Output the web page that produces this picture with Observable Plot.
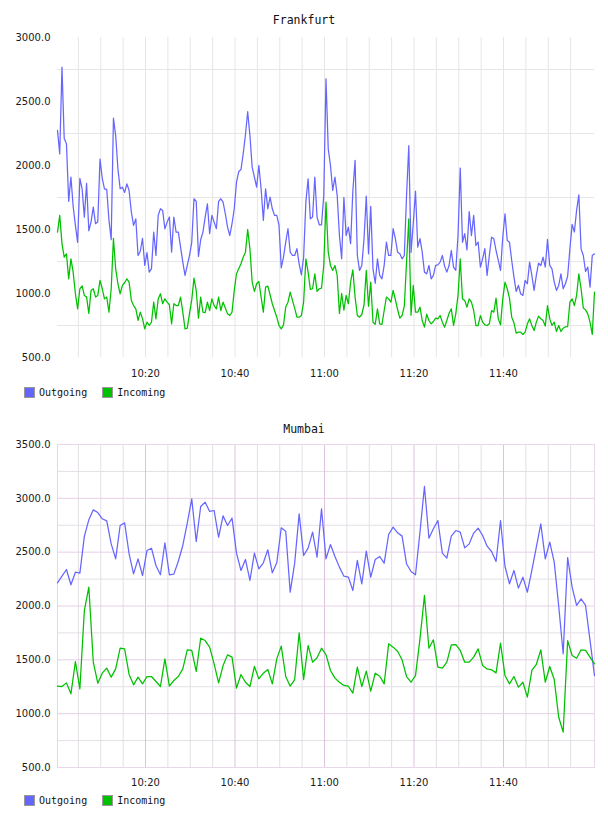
<!DOCTYPE html>
<html><head><meta charset="utf-8">
<script src="https://cdn.jsdelivr.net/npm/d3@7"></script>
<script src="https://cdn.jsdelivr.net/npm/@observablehq/plot@0.6"></script>
<style>
body{margin:0;background:#fff;}
#root{position:relative;width:608px;height:816px;overflow:hidden;background:#fff;}
.title{position:absolute;left:0;width:608px;text-align:center;font:11.5px "DejaVu Sans Mono",monospace;color:#111;line-height:14px;}
.chart{position:absolute;left:0;}
.legend{position:absolute;left:24px;display:flex;align-items:center;font:10px "DejaVu Sans Mono",monospace;color:#111;height:12px;}
.item{display:flex;align-items:center;margin-right:15px;}
.sw{width:9px;height:9px;border:1px solid #999;margin-right:4px;}
</style></head>
<body><div id="root"></div>
<script>
// ---- data ----
const titles = ["Frankfurt", "Mumbai"];
const seriesNames = ["Outgoing", "Incoming"];
const seriesColors = ["#6666ff", "#00c000"];
const xTickValues = [20, 40, 60, 80, 100];          // minutes after 10:00
const xTickLabels = ["10:20", "10:40", "11:00", "11:20", "11:40"];
const startMinute = 1 / 3;                           // 10:00:20
const spanMinutes = 120;
const frankfurtStep = 0.5;                           // minutes between samples
const mumbaiStep = 1;
const frankfurtYTicks = [500, 1000, 1500, 2000, 2500, 3000];
const mumbaiYTicks = [500, 1000, 1500, 2000, 2500, 3000, 3500];

const frankfurtOutgoing = [
2274,2090,2768,2210,2170,1720,1910,1680,1532,1400,
1900,1818,1597,1860,1490,1560,1675,1545,1560,2050,
1900,1818,1813,1573,1420,2370,2234,1974,1818,1831,
1790,1857,1805,1636,1532,1583,1297,1330,1430,1219,
1320,1167,1193,1480,1297,1610,1662,1649,1505,1558,
1597,1323,1597,1480,1480,1362,1245,1141,1219,1297,
1400,1740,1720,1290,1420,1480,1597,1700,1467,1610,
1558,1506,1720,1740,1714,1623,1519,1453,1545,1662,
1870,1953,1969,2092,2240,2420,2234,1987,1909,1831,
2000,1818,1571,1818,1662,1753,1662,1610,1610,1532,
1200,1284,1402,1506,1323,1297,1297,1350,1232,1146,
1284,1714,1896,1583,1597,1910,1597,1537,1537,1766,
2677,2130,2000,1805,1909,1766,1453,1271,1750,1453,
1519,1389,1800,2040,1297,1180,1219,1428,1760,1310,
1680,1193,1080,1271,1141,1115,1219,1402,1297,1297,
1506,1428,1323,1310,1271,1297,1766,2155,1320,1545,
1800,1362,1428,1323,1167,1154,1219,1115,1141,1219,
1224,1245,1297,1214,1167,1219,1336,1206,1180,1453,
1980,1400,1467,1340,1640,1453,1610,1375,1402,1206,
1271,1350,1141,1297,1440,1428,1336,1258,1180,1440,
1623,1414,1401,1258,1128,1016,1063,998,985,1102,
1076,1245,1141,1024,1141,1237,1219,1284,1206,1422,
1219,1193,1089,1024,1063,1154,1037,1076,1136,1349,
1540,1480,1649,1771,1349,1297,1172,1206,1050,1297,
1310];

const frankfurtIncoming = [
1480,1610,1390,1284,1310,1115,1271,1167,998,880,
1037,1060,985,972,844,1024,1037,972,985,1102,
1037,958,972,854,1037,1430,1193,1076,998,1063,
1084,1115,1089,946,906,880,790,854,802,724,
776,750,776,932,802,958,998,920,958,932,
912,763,920,906,906,972,854,724,730,844,
950,1120,1024,808,972,854,850,932,867,958,
906,880,972,867,932,886,841,828,854,1024,
1154,1193,1232,1284,1323,1500,1349,1089,1016,1076,
1094,972,854,1050,1058,990,920,867,815,750,
724,755,893,932,1011,946,886,815,815,828,
932,1271,1167,1032,1037,1154,1016,1037,1042,1219,
1714,1323,1219,1180,1219,1141,844,1000,870,985,
920,1089,1185,972,828,815,836,912,1180,900,
1089,776,760,880,763,758,867,972,958,932,
1024,953,875,808,828,901,1245,1583,830,1063,
854,854,893,789,737,838,789,763,781,808,
802,828,776,737,789,846,880,750,841,985,
1270,958,946,893,958,932,867,750,750,828,
776,755,750,763,867,854,964,802,755,958,
1089,1037,964,815,771,690,698,698,680,698,
763,802,750,711,776,823,802,789,745,906,
802,750,776,703,750,703,729,740,742,932,
958,906,985,1154,1037,886,872,841,776,680,
1011];

const mumbaiOutgoing = [
2215,2277,2339,2197,2314,2305,2646,2800,2893,2868,
2810,2791,2577,2438,2748,2772,2485,2299,2438,2283,
2516,2537,2376,2290,2587,2290,2296,2416,2562,2769,
2995,2599,2924,2964,2878,2887,2639,2837,2748,2816,
2491,2330,2432,2237,2491,2345,2401,2522,2308,2401,
2726,2695,2128,2398,2856,2469,2537,2686,2454,2902,
2438,2571,2460,2361,2277,2268,2144,2423,2206,2509,
2268,2432,2460,2398,2664,2732,2680,2649,2392,2320,
2290,2686,3110,2630,2717,2794,2491,2444,2649,2701,
2686,2540,2577,2677,2723,2655,2556,2506,2413,2794,
2367,2206,2330,2166,2268,2128,2330,2546,2763,2438,
2593,2407,2000,1556,2450,2175,2005,2067,2005,1680,
1354];

const mumbaiIncoming = [
1255,1252,1286,1184,1484,1231,1958,2175,1478,1283,
1376,1423,1339,1416,1608,1602,1364,1268,1339,1277,
1345,1345,1299,1252,1509,1255,1308,1345,1416,1593,
1587,1392,1701,1679,1618,1463,1286,1447,1546,1525,
1237,1364,1292,1252,1438,1323,1376,1410,1277,1509,
1627,1345,1255,1317,1751,1317,1633,1478,1519,1608,
1549,1401,1330,1292,1262,1255,1190,1432,1252,1395,
1209,1376,1348,1277,1649,1618,1580,1500,1345,1292,
1354,1695,2098,1608,1686,1432,1423,1478,1639,1642,
1587,1478,1478,1525,1602,1447,1416,1407,1379,1655,
1354,1277,1345,1246,1292,1153,1401,1457,1593,1292,
1438,1317,967,828,1679,1540,1515,1593,1587,1525,
1463];

// ---- drawing ----
const root = document.getElementById("root");
const toRows = (vals, step) => vals.map((v, i) => ({t: startMinute + i * step, v}));
const fmtY = d3.format(".1f");
const fmtX = d => xTickLabels[xTickValues.indexOf(d)];
const baseStyle = {fontFamily: "'DejaVu Sans', sans-serif", fontSize: "10px", color: "#1a1a1a", background: "transparent", overflow: "visible"};

function addTitle(text, top) {
  const d = document.createElement("div");
  d.className = "title"; d.style.top = top + "px"; d.textContent = text;
  root.appendChild(d);
}
function addLegend(top) {
  const lg = document.createElement("div");
  lg.className = "legend"; lg.style.top = top + "px";
  seriesNames.forEach((n, i) => {
    const it = document.createElement("div"); it.className = "item";
    const sw = document.createElement("div"); sw.className = "sw"; sw.style.background = seriesColors[i];
    const tx = document.createElement("span"); tx.textContent = n;
    it.appendChild(sw); it.appendChild(tx); lg.appendChild(it);
  });
  root.appendChild(lg);
}
function addChart(svg, top) {
  const w = document.createElement("div");
  w.className = "chart"; w.style.top = top + "px";
  w.appendChild(svg); root.appendChild(w);
}

// Frankfurt
addTitle(titles[0], 13);
const fraGridX = d3.range(5, 120, 5);
const fraGridY = d3.range(750, 3000, 500);
const fra = Plot.plot({
  width: 608, height: 355,
  marginLeft: 57, marginRight: 14, marginTop: 7, marginBottom: 28,
  style: baseStyle,
  x: {domain: [startMinute, startMinute + spanMinutes], label: null},
  y: {domain: [500, 3000], label: null},
  marks: [
    Plot.ruleX(fraGridX, {stroke: "#e6e6e6", strokeWidth: 1}),
    Plot.ruleY(fraGridY, {stroke: "#e6e6e6", strokeWidth: 1}),
    Plot.line(toRows(frankfurtOutgoing, frankfurtStep), {x: "t", y: "v", stroke: seriesColors[0], strokeWidth: 1.25}),
    Plot.line(toRows(frankfurtIncoming, frankfurtStep), {x: "t", y: "v", stroke: seriesColors[1], strokeWidth: 1.25}),
    Plot.axisY(frankfurtYTicks, {tickSize: 0, tickPadding: 7, tickFormat: fmtY, label: null}),
    Plot.axisX(xTickValues, {tickSize: 0, tickPadding: 12, tickFormat: fmtX, label: null})
  ]
});
addChart(fra, 30);
addLegend(386);

// Mumbai
addTitle(titles[1], 422);
const mumMinorX = d3.range(5, 120, 5).filter(d => d % 20 !== 0);
const mumMinorY = d3.range(750, 3500, 500);
const mumMajorY = d3.range(1000, 3500, 500);
const mum = Plot.plot({
  width: 608, height: 358,
  marginLeft: 57, marginRight: 14, marginTop: 7, marginBottom: 28,
  style: baseStyle,
  x: {domain: [startMinute, startMinute + spanMinutes], label: null},
  y: {domain: [500, 3500], label: null},
  marks: [
    Plot.ruleX(mumMinorX, {stroke: "#e3dfe5", strokeWidth: 1}),
    Plot.ruleY(mumMinorY, {stroke: "#e3dfe5", strokeWidth: 1}),
    Plot.ruleX(xTickValues, {stroke: "#dcc4dc", strokeWidth: 1}),
    Plot.ruleY(mumMajorY, {stroke: "#e6cfe6", strokeWidth: 1}),
    Plot.frame({stroke: "#ead6ea", strokeWidth: 1}),
    Plot.line(toRows(mumbaiOutgoing, mumbaiStep), {x: "t", y: "v", stroke: seriesColors[0], strokeWidth: 1.25}),
    Plot.line(toRows(mumbaiIncoming, mumbaiStep), {x: "t", y: "v", stroke: seriesColors[1], strokeWidth: 1.25}),
    Plot.axisY(mumbaiYTicks, {tickSize: 0, tickPadding: 7, tickFormat: fmtY, label: null}),
    Plot.axisX(xTickValues, {tickSize: 0, tickPadding: 11, tickFormat: fmtX, label: null})
  ]
});
addChart(mum, 437);
addLegend(794);
</script>
</body></html>
